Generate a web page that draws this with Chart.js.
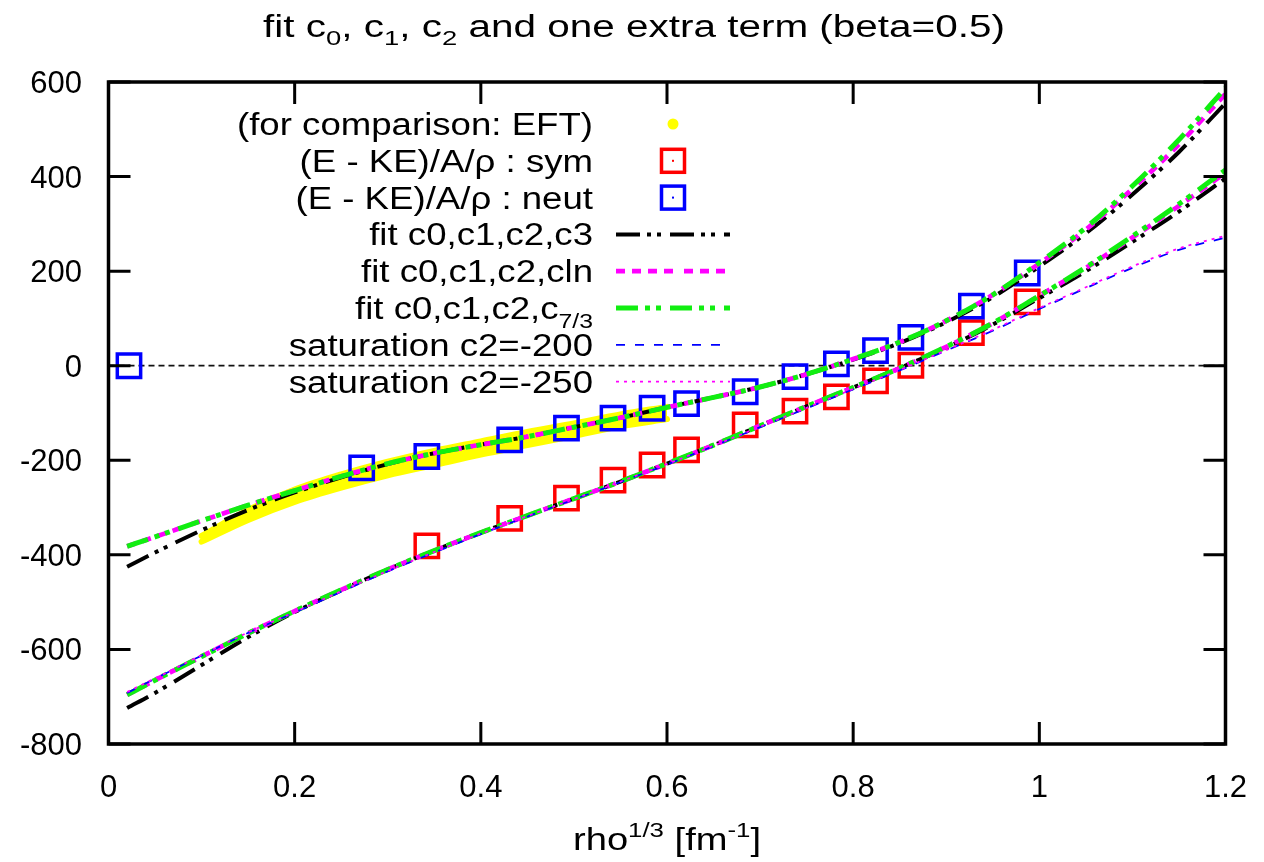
<!DOCTYPE html>
<html><head><meta charset="utf-8">
<script src="https://cdn.jsdelivr.net/npm/chart.js@4.4.1/dist/chart.umd.min.js"></script>
<style>html,body{margin:0;padding:0;background:#fff;}canvas{display:block;}</style>
</head><body>
<canvas id="c" width="1264" height="862"></canvas>
<script>
// ---------- data ----------
const curveX   = [0.02,0.05,0.1,0.15,0.2,0.25,0.3,0.35,0.4,0.45,0.5,0.55,0.6,0.65,0.7,0.75,0.8,0.85,0.9,0.95,1.0,1.05,1.1,1.15,1.2];
const neutC3   = [-425,-395,-348,-305,-268,-236,-208,-185,-167,-150,-130,-110,-88,-67,-45,-18,13,48,92,145,210,280,362,452,555];
const neutCln  = [-382,-362,-328,-295,-264,-234,-207,-185,-167,-150,-130,-110,-88,-67,-45,-18,14,50,95,150,216,288,374,468,575];
const neutC73  = [-382,-362,-328,-295,-264,-234,-207,-185,-167,-150,-130,-110,-88,-67,-45,-18,14,50,95,150,218,292,380,478,587];
const symC3    = [-724,-692,-633,-574,-521,-475,-431,-391,-353,-317,-281,-245,-207,-168,-127,-86,-46,-5,38,87,143,200,262,326,396];
const symCln   = [-696,-665,-615,-566,-519,-474,-431,-391,-353,-317,-281,-245,-207,-168,-127,-86,-46,-5,40,90,148,207,271,338,408];
const symC73   = [-696,-665,-615,-566,-519,-474,-431,-391,-353,-317,-281,-245,-207,-168,-127,-86,-46,-5,40,90,148,208,274,342,414];
const sat200   = [-692,-662,-613,-565,-522,-478,-435,-395,-356,-319,-283,-246,-209,-170,-130,-90,-50,-10,32,74,120,164,207,245,271];
const sat250   = [-690,-661,-612,-564,-521,-477,-434,-394,-355,-318,-282,-245,-208,-169,-129,-89,-49,-9,33,76,122,166,210,248,275];

const eftX     = [0.1,0.15,0.2,0.25,0.3,0.35,0.4,0.45,0.5,0.55,0.6];
const eftHigh  = [-360,-305,-262,-230,-203,-180,-160,-140,-122,-103,-87];
const eftLow   = [-372,-326,-288,-258,-232,-210,-188,-168,-148,-128,-113];

const neutX    = [0.022,0.272,0.342,0.431,0.492,0.542,0.584,0.621,0.684,0.7375,0.782,0.824,0.862,0.927,0.987];
const neutY    = [0,-216,-192,-157,-132,-111,-90,-80,-55,-23,4,32,60,126,196];
const symX     = [0.342,0.431,0.492,0.542,0.584,0.621,0.684,0.7375,0.782,0.824,0.862,0.927,0.987];
const symY     = [-381,-323,-280,-242,-210,-178,-125,-96,-66,-32,1,70,135];

const xTicks   = [0,0.2,0.4,0.6,0.8,1,1.2];
const yTicks   = [-800,-600,-400,-200,0,200,400,600];

// ---------- styles ----------
const FONT = "'Liberation Sans', Arial, Helvetica, sans-serif";
const C = {yellow:'#ffff00', red:'#ff0000', blue:'#0000ff', black:'#000000', magenta:'#ff00ff', green:'#11ee11'};
const ST = {
  c3:   {color:C.black,   width:4,   dash:[24,7,4,6,4,9]},
  cln:  {color:C.magenta, width:4.7, dash:[9,7,9,7,9,7,9,11]},
  c73:  {color:C.green,   width:5,   dash:[22,7,5,6,5,9]},
  s200: {color:C.blue,    width:1.8, dash:[9,10]},
  s250: {color:C.magenta, width:1.8, dash:[3,5]}
};
const pts = (xs, ys) => xs.map((x, i) => ({x, y: ys[i]}));
function curve(label, ys, st, order) {
  return {label, data: pts(curveX, ys), showLine:true, borderColor:st.color, borderWidth:st.width,
    borderDash:st.dash, pointRadius:0, fill:false, cubicInterpolationMode:'monotone', order};
}
function squares(label, xs, ys, color, order) {
  return {label, data: pts(xs, ys), showLine:false, pointStyle:'rect', pointRadius:16.5,
    pointBorderWidth:3.5, pointBorderColor:color, pointBackgroundColor:'rgba(0,0,0,0)', borderColor:color, order};
}

const datasets = [
  {label:'EFT hi', data: pts(eftX, eftHigh), showLine:true, borderColor:C.yellow, backgroundColor:C.yellow,
   borderWidth:6, borderCapStyle:'round', borderJoinStyle:'round', pointRadius:0, fill:'+1', cubicInterpolationMode:'monotone', order:20},
  {label:'EFT lo', data: pts(eftX, eftLow), showLine:true, borderColor:C.yellow, borderWidth:6, borderCapStyle:'round',
   pointRadius:0, fill:false, cubicInterpolationMode:'monotone', order:19},
  squares('sym', symX, symY, C.red, 18),
  squares('neut', neutX, neutY, C.blue, 17),
  curve('neut c3', neutC3, ST.c3, 16),
  curve('sym c3', symC3, ST.c3, 15),
  curve('neut cln', neutCln, ST.cln, 14),
  curve('sym cln', symCln, ST.cln, 13),
  curve('neut c73', neutC73, ST.c73, 12),
  curve('sym c73', symC73, ST.c73, 11),
  curve('sat200', sat200, ST.s200, 10),
  curve('sat250', sat250, ST.s250, 9)
];

// ---------- text helpers ----------
function partsWidth(ctx, parts) {
  let w = 0;
  for (const p of parts) { ctx.font = p.size + 'px ' + FONT; w += ctx.measureText(p.t).width; }
  return w;
}
function drawRich(ctx, parts, x, y, align, sx) {
  const w = partsWidth(ctx, parts) * sx;
  let cx = align === 'center' ? x - w / 2 : (align === 'right' ? x - w : x);
  ctx.save();
  ctx.fillStyle = '#000'; ctx.textAlign = 'left'; ctx.textBaseline = 'alphabetic';
  for (const p of parts) {
    ctx.font = p.size + 'px ' + FONT;
    const pw = ctx.measureText(p.t).width;
    ctx.save(); ctx.translate(cx, y + (p.dy || 0)); ctx.scale(sx, 1); ctx.fillText(p.t, 0, 0); ctx.restore();
    cx += pw * sx;
  }
  ctx.restore();
}

const LEG = 31;
const legendItems = [
  {parts:[{t:'(for comparison: EFT)', size:LEG}], kind:'dot'},
  {parts:[{t:'(E - KE)/A/\u03c1 : sym', size:LEG}], kind:'sq', color:C.red},
  {parts:[{t:'(E - KE)/A/\u03c1 : neut', size:LEG}], kind:'sq', color:C.blue},
  {parts:[{t:'fit c0,c1,c2,c3', size:LEG}], kind:'line', st:ST.c3},
  {parts:[{t:'fit c0,c1,c2,cln', size:LEG}], kind:'line', st:ST.cln},
  {parts:[{t:'fit c0,c1,c2,c', size:LEG}, {t:'7/3', size:21, dy:9}], kind:'line', st:ST.c73},
  {parts:[{t:'saturation c2=-200', size:LEG}], kind:'line', st:ST.s200},
  {parts:[{t:'saturation c2=-250', size:LEG}], kind:'line', st:ST.s250}
];

const gnuplotLook = {
  id: 'gnuplotLook',
  beforeDatasetsDraw(chart) {
    const {ctx, chartArea: a, scales: {y}} = chart;
    const y0 = y.getPixelForValue(0);
    ctx.save();
    ctx.strokeStyle = '#111'; ctx.lineWidth = 1.7; ctx.setLineDash([6, 4]);
    ctx.beginPath(); ctx.moveTo(a.left, y0); ctx.lineTo(a.right, y0); ctx.stroke();
    ctx.restore();
  },
  afterDatasetsDraw(chart) {
    const {ctx, chartArea: a, scales: {x, y}} = chart;
    ctx.save();
    ctx.strokeStyle = '#000'; ctx.setLineDash([]);
    ctx.lineWidth = 3;
    const TL = 22;
    ctx.beginPath();
    for (const v of xTicks) {
      const px = x.getPixelForValue(v);
      ctx.moveTo(px, a.bottom); ctx.lineTo(px, a.bottom - TL);
      ctx.moveTo(px, a.top); ctx.lineTo(px, a.top + TL);
    }
    for (const v of yTicks) {
      const py = y.getPixelForValue(v);
      ctx.moveTo(a.left, py); ctx.lineTo(a.left + TL, py);
      ctx.moveTo(a.right, py); ctx.lineTo(a.right - TL, py);
    }
    ctx.stroke();
    ctx.lineWidth = 3.5;
    ctx.strokeRect(a.left, a.top, a.right - a.left, a.bottom - a.top);
    ctx.restore();
  },
  afterDraw(chart) {
    const {ctx, chartArea: a, scales: {x, y}} = chart;
    ctx.save();
    ctx.fillStyle = '#000';
    ctx.font = '31px ' + FONT;
    ctx.textAlign = 'right'; ctx.textBaseline = 'alphabetic';
    for (const v of yTicks) ctx.fillText(String(v), 82, y.getPixelForValue(v) + 11);
    ctx.textAlign = 'center';
    for (const v of xTicks) ctx.fillText(String(v), x.getPixelForValue(v), 797);
    ctx.restore();

    // title
    const title = [
      {t:'fit c', size:31}, {t:'0', size:21, dy:8}, {t:', c', size:31}, {t:'1', size:21, dy:8},
      {t:', c', size:31}, {t:'2', size:21, dy:8}, {t:' and one extra term (beta=0.5)', size:31}
    ];
    drawRich(ctx, title, 634, 37, 'center', 742 / partsWidth(ctx, title));

    // x axis label
    const xl = [{t:'rho', size:31}, {t:'1/3', size:21, dy:-13}, {t:' [fm', size:31}, {t:'-1', size:21, dy:-13}, {t:']', size:31}];
    drawRich(ctx, xl, (a.left + a.right) / 2, 850, 'center', 188 / partsWidth(ctx, xl));

    // key
    const sx = 356 / partsWidth(ctx, legendItems[0].parts);
    legendItems.forEach((it, i) => {
      const cy = 124 + 36.8 * i;
      drawRich(ctx, it.parts, 593, cy + 11, 'right', sx);
      ctx.save();
      if (it.kind === 'dot') {
        ctx.fillStyle = C.yellow; ctx.beginPath(); ctx.arc(673, cy, 5.5, 0, Math.PI * 2); ctx.fill();
      } else if (it.kind === 'sq') {
        ctx.strokeStyle = it.color; ctx.lineWidth = 3.5;
        ctx.strokeRect(673 - 11.5, cy - 11.5, 23, 23);
        ctx.fillStyle = it.color; ctx.fillRect(672, cy - 1, 2, 2);
      } else {
        ctx.strokeStyle = it.st.color; ctx.lineWidth = it.st.width; ctx.setLineDash(it.st.dash);
        ctx.beginPath(); ctx.moveTo(616, cy); ctx.lineTo(730, cy); ctx.stroke();
      }
      ctx.restore();
    });
  }
};

new Chart(document.getElementById('c'), {
  type: 'line',
  data: {datasets},
  options: {
    responsive: false, devicePixelRatio: 1, animation: false, events: [],
    layout: {padding: {top: 82, right: 38.5, bottom: 0, left: 0}},
    plugins: {legend: {display: false}, title: {display: false}, tooltip: {enabled: false}},
    scales: {
      x: {type: 'linear', min: 0, max: 1.2, grid: {display: false}, border: {display: false},
          ticks: {display: false, stepSize: 0.2}, afterFit: s => { s.height = 118; }},
      y: {type: 'linear', min: -800, max: 600, grid: {display: false}, border: {display: false},
          ticks: {display: false, stepSize: 200}, afterFit: s => { s.width = 108.5; }}
    }
  },
  plugins: [gnuplotLook]
});
</script>
</body></html>
